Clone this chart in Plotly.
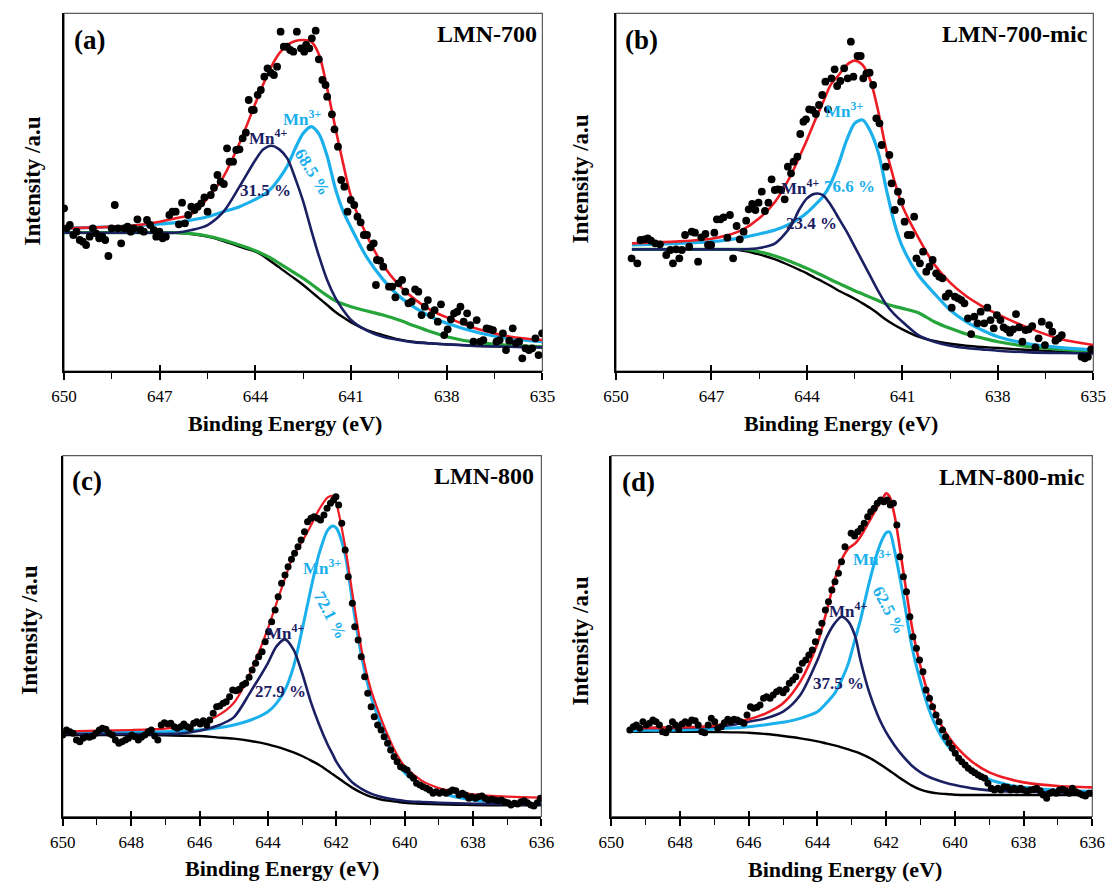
import plotly.graph_objects as go

FONT = "Liberation Serif"
RED = "#ed1c24"
SKY = "#1bb0ec"
NAVY = "#1b2063"
GREEN = "#26a53b"
INK = "#000000"

# Binding-energy tick marks
ticks_700 = [650, 647, 644, 641, 638, 635]
ticks_800 = [650, 648, 646, 644, 642, 640, 638, 636]

# ---------------- (a) LMN-700 : Mn 2p3/2 ----------------
a_points = [
    (650.00, 48.8), (649.92, 42.8), (649.82, 43.8), (649.71, 40.8), (649.61, 41.8), (649.51, 39.3),
    (649.41, 38.8), (649.31, 37.8), (649.20, 40.3), (649.10, 42.8), (649.00, 41.3), (648.90, 39.8),
    (648.80, 40.3), (648.71, 39.3), (648.61, 34.5), (648.51, 42.8), (648.41, 49.8), (648.31, 42.8),
    (648.21, 38.3), (648.11, 42.8), (648.01, 43.3), (647.91, 41.8), (647.81, 42.8), (647.70, 45.5),
    (647.60, 42.3), (647.50, 41.8), (647.40, 45.3), (647.30, 43.8), (647.19, 42.3), (647.11, 40.3),
    (647.01, 41.8), (646.91, 39.8), (646.81, 40.3), (646.70, 46.8), (646.60, 47.8), (646.50, 47.8),
    (646.40, 44.0), (646.30, 50.5), (646.21, 44.3), (646.11, 46.8), (646.01, 49.3), (645.91, 48.3),
    (645.81, 49.3), (645.70, 50.3), (645.60, 52.1), (645.50, 47.8), (645.40, 52.8), (645.30, 55.0),
    (645.19, 58.8), (645.09, 56.8), (644.99, 56.1), (644.89, 66.8), (644.81, 62.8), (644.70, 62.8),
    (644.60, 66.3), (644.50, 66.5), (644.40, 69.8), (644.30, 71.5), (644.21, 81.3), (644.11, 78.3),
    (644.05, 78.3), (643.93, 82.8), (643.83, 84.3), (643.72, 88.3), (643.62, 90.8), (643.52, 89.5),
    (643.42, 88.8), (643.32, 91.3), (643.21, 101.8), (643.11, 97.3), (643.01, 97.3), (642.91, 96.3),
    (642.81, 95.8), (642.70, 101.8), (642.57, 96.8), (642.47, 95.8), (642.41, 97.8), (642.31, 96.8),
    (642.23, 99.8), (642.11, 102.1), (642.01, 93.5), (641.90, 87.3), (641.80, 85.8), (641.75, 82.3),
    (641.60, 77.0), (641.52, 72.5), (641.41, 67.3), (641.31, 57.3), (641.21, 55.3), (641.11, 47.8),
    (641.01, 51.3), (640.90, 49.8), (640.80, 46.3), (640.70, 44.6), (640.60, 40.8), (640.50, 40.8),
    (640.39, 37.1), (640.29, 38.3), (640.22, 25.8), (640.19, 33.3), (640.09, 33.1), (639.99, 31.3),
    (639.81, 25.3), (639.71, 25.3), (639.61, 22.1), (639.51, 26.3), (639.40, 27.3), (639.30, 23.8),
    (639.20, 20.3), (639.10, 20.8), (638.99, 24.5), (638.89, 23.8), (638.79, 16.8), (638.69, 19.3),
    (638.59, 21.3), (638.49, 16.8), (638.38, 18.3), (638.28, 14.8), (638.18, 20.0), (638.08, 10.8),
    (637.97, 12.5), (637.87, 15.5), (637.77, 17.3), (637.67, 17.8), (637.57, 19.3), (637.47, 14.8),
    (637.36, 17.3), (637.26, 13.8), (637.16, 8.8), (637.06, 15.3), (636.95, 8.8), (636.85, 9.3),
    (636.75, 12.8), (636.65, 12.6), (636.55, 12.3), (636.44, 8.8), (636.34, 9.3), (636.24, 11.3),
    (636.14, 6.3), (636.04, 9.1), (635.93, 12.8), (635.83, 8.3), (635.73, 8.8), (635.63, 3.8),
    (635.53, 6.8), (635.42, 6.3), (635.32, 6.8), (635.22, 9.8), (635.12, 4.8), (635.01, 11.3),
]
a_fit_ev = [650, 649, 648, 647, 646.5, 646, 645.5, 645, 644.5, 644, 643.75, 643.5, 643.25, 643,
            642.75, 642.5, 642.25, 642, 641.75, 641.5, 641.25, 641, 640.5, 640, 639.5, 639,
            638.5, 638, 637, 636, 635]
a_shirley = [41.5, 41.5, 41.5, 41.5, 41.5, 41.1, 40.3, 39.0, 37.3, 35.8, 34.5, 32.8, 31.1, 29.3,
             27.6, 25.8, 23.8, 21.8, 19.8, 17.8, 16.1, 14.6, 12.3, 10.8, 9.5, 8.7, 8.3, 8.0, 7.5,
             7.3, 7.1]
a_bg_alt = [41.5, 41.5, 41.5, 41.5, 41.5, 41.2, 40.5, 39.3, 37.8, 36.1, 35.0, 33.8, 32.3, 30.8,
            29.3, 27.8, 26.1, 24.3, 22.6, 21.1, 20.1, 19.3, 18.0, 16.8, 15.3, 13.5, 11.8, 10.3, 8.5,
            7.7, 7.3]
a_mn4 = [41.5, 41.5, 41.5, 41.5, 41.5, 42.3, 43.8, 47.8, 55.3, 63.3, 66.5, 67.6, 66.5, 63.8, 57.8,
         50.8, 42.3, 34.3, 27.3, 22.1, 18.3, 15.3, 12.1, 10.3, 9.3, 8.6, 8.3, 8.0, 7.5, 7.3, 7.1]
a_mn3 = [42.8, 43.1, 43.5, 44.1, 44.5, 45.3, 46.3, 47.8, 49.3, 51.5, 52.8, 54.8, 57.8, 61.5, 66.8,
         71.3, 73.3, 71.0, 64.5, 55.0, 48.0, 43.0, 34.0, 27.5, 22.5, 19.0, 16.3, 14.3, 11.5, 9.7, 8.8]
a_envelope = [42.8, 43.1, 43.5, 44.8, 45.8, 47.1, 51.8, 58.3, 68.3, 80.3, 86.1, 91.3, 95.3, 97.8,
              99.0, 99.3, 98.8, 94.8, 84.8, 73.3, 62.3, 52.3, 40.5, 31.8, 25.8, 21.5, 18.3, 16.1,
              12.5, 10.3, 9.3]
a_share = (31.5, 68.5)   # Mn4+, Mn3+ (%)

# ---------------- (b) LMN-700-mic ----------------
b_points = [
    (649.51, 33.8), (649.33, 32.3), (649.23, 39.3), (649.10, 39.5), (649.00, 39.8), (648.90, 39.1),
    (648.77, 38.3), (648.62, 38.0), (648.42, 34.8), (648.29, 36.3), (648.21, 32.3), (648.11, 36.5),
    (648.01, 33.8), (647.93, 36.3), (647.83, 40.8), (647.70, 37.3), (647.62, 41.8), (647.52, 41.5),
    (647.42, 32.8), (647.32, 40.1), (647.19, 41.1), (647.11, 37.8), (647.01, 37.8), (646.91, 41.5),
    (646.83, 45.5), (646.72, 45.5), (646.62, 46.1), (646.50, 40.0), (646.42, 46.8), (646.32, 33.8),
    (646.21, 43.5), (646.11, 39.5), (645.99, 41.8), (645.91, 45.1), (645.83, 48.5), (645.72, 50.1),
    (645.62, 48.3), (645.52, 50.5), (645.42, 53.8), (645.32, 48.0), (645.21, 50.5), (645.11, 57.5),
    (645.01, 54.3), (644.91, 54.5), (644.81, 54.3), (644.70, 51.5), (644.60, 61.3), (644.50, 59.3),
    (644.42, 62.8), (644.30, 64.3), (644.21, 71.1), (644.11, 74.8), (644.03, 75.5), (643.93, 78.5),
    (643.83, 78.3), (643.72, 77.1), (643.62, 79.8), (643.52, 82.8), (643.42, 86.8), (643.34, 78.5),
    (643.23, 87.8), (643.13, 90.5), (643.05, 85.5), (642.95, 87.0), (642.83, 90.8), (642.72, 87.8),
    (642.62, 98.8), (642.54, 88.3), (642.41, 94.5), (642.31, 94.5), (642.23, 87.8), (642.13, 89.3),
    (642.03, 89.5), (641.92, 85.8), (641.82, 75.8), (641.72, 74.3), (641.65, 67.8), (641.52, 61.3),
    (641.41, 64.8), (641.34, 56.3), (641.24, 48.3), (641.14, 53.8), (641.04, 50.8), (640.93, 44.8),
    (640.83, 40.8), (640.73, 40.8), (640.63, 46.3), (640.56, 33.8), (640.45, 32.3), (640.35, 35.8),
    (640.25, 29.8), (640.15, 31.3), (640.05, 33.3), (639.94, 29.3), (639.84, 28.3), (639.74, 27.8),
    (639.64, 22.3), (639.54, 23.3), (639.45, 19.0), (639.35, 22.3), (639.25, 21.8), (639.15, 21.3),
    (639.05, 20.3), (638.94, 15.8), (638.84, 11.1), (638.74, 16.3), (638.64, 14.3), (638.54, 17.8),
    (638.43, 14.3), (638.33, 19.0), (638.23, 15.3), (638.13, 12.8), (638.03, 16.8), (637.92, 15.3),
    (637.82, 13.1), (637.72, 12.5), (637.62, 11.5), (637.52, 12.5), (637.43, 17.1), (637.33, 13.1),
    (637.23, 8.8), (637.13, 12.3), (637.03, 12.5), (636.92, 13.5), (636.82, 7.1), (636.72, 9.8),
    (636.62, 14.8), (636.52, 7.8), (636.39, 13.8), (636.29, 11.8), (636.19, 9.1), (636.09, 9.8),
    (635.99, 10.8), (635.37, 4.3), (635.27, 3.8), (635.17, 4.3), (635.07, 6.5),
]
b_fit_ev = [649.5, 649, 648, 647, 646.5, 646, 645.5, 645, 644.5, 644.25, 644, 643.75, 643.5,
            643.25, 643, 642.75, 642.5, 642.25, 642, 641.75, 641.5, 641.25, 641, 640.5, 640,
            639.5, 639, 638.5, 638, 637, 636, 635]
b_shirley = [36.5, 36.5, 36.5, 36.5, 36.5, 36.1, 35.0, 33.5, 31.5, 30.4, 29.3, 28.0, 26.8, 25.5,
             24.1, 22.9, 21.7, 20.3, 18.8, 17.1, 15.3, 13.8, 12.5, 10.3, 9.0, 8.2, 7.6, 7.2, 6.9,
             6.3, 5.8, 5.3]
b_bg_alt = [36.5, 36.5, 36.5, 36.5, 36.5, 36.5, 35.8, 34.5, 32.8, 31.8, 30.8, 29.7, 28.6, 27.4,
            26.3, 25.2, 24.1, 23.1, 22.1, 21.1, 20.1, 19.4, 18.8, 17.5, 14.8, 12.8, 11.1, 9.9, 8.8,
            7.3, 6.5, 5.8]
b_mn4 = [36.5, 36.5, 36.5, 36.5, 36.5, 36.5, 36.9, 38.3, 43.5, 48.3, 51.8, 53.2, 52.8, 49.8, 45.8,
         41.8, 37.3, 32.8, 28.3, 23.8, 19.8, 17.0, 14.8, 10.8, 8.8, 7.6, 6.9, 6.5, 6.1, 5.6, 5.4, 5.3]
b_mn3 = [37.8, 38.0, 38.3, 38.8, 39.3, 40.1, 41.1, 42.3, 44.3, 45.7, 47.5, 49.8, 52.3, 56.3, 62.3,
         69.3, 74.3, 75.3, 71.8, 65.3, 54.3, 44.3, 37.3, 28.8, 23.3, 18.3, 14.8, 12.3, 10.3, 8.1,
         7.0, 6.3]
b_envelope = [38.3, 38.5, 38.9, 39.7, 40.7, 42.5, 45.8, 50.8, 58.8, 64.0, 69.3, 75.1, 80.5, 85.9,
              88.8, 91.8, 93.1, 91.8, 87.0, 77.5, 66.0, 57.0, 49.5, 40.0, 32.0, 26.5, 22.5, 19.5,
              17.0, 12.8, 9.5, 7.8]
b_share = (23.4, 76.6)

# ---------------- (c) LMN-800 ----------------
c_points = [
    (650.00, 21.9), (649.89, 23.4), (649.79, 22.9), (649.70, 22.4), (649.60, 20.4), (649.50, 19.9),
    (649.41, 20.9), (649.31, 21.4), (649.22, 21.2), (649.12, 21.6), (649.03, 22.4), (648.93, 23.4),
    (648.84, 23.9), (648.74, 23.6), (648.65, 22.4), (648.55, 21.9), (648.46, 20.4), (648.36, 19.4),
    (648.27, 19.9), (648.17, 20.4), (648.08, 20.9), (647.98, 21.9), (647.89, 21.4), (647.79, 20.4),
    (647.70, 21.2), (647.60, 21.9), (647.50, 22.9), (647.41, 23.4), (647.31, 21.6), (647.22, 20.4),
    (647.12, 24.9), (647.03, 25.6), (646.93, 25.2), (646.84, 25.4), (646.74, 24.4), (646.65, 23.9),
    (646.55, 24.4), (646.46, 25.2), (646.36, 24.4), (646.27, 23.9), (646.17, 25.4), (646.08, 25.9),
    (645.98, 25.2), (645.89, 26.2), (645.79, 24.9), (645.70, 26.4), (645.60, 28.4), (645.50, 30.4),
    (645.41, 30.6), (645.31, 31.4), (645.22, 31.9), (645.12, 33.4), (645.03, 35.4), (644.93, 35.2),
    (644.84, 35.6), (644.74, 36.9), (644.65, 37.4), (644.55, 39.2), (644.46, 41.4), (644.36, 43.4),
    (644.27, 45.4), (644.17, 46.9), (644.08, 49.9), (643.98, 52.9), (643.89, 55.9), (643.79, 59.4),
    (643.70, 63.4), (643.60, 67.4), (643.50, 69.9), (643.41, 72.4), (643.31, 74.6), (643.22, 76.4),
    (643.12, 78.4), (643.03, 80.4), (642.93, 82.9), (642.84, 85.9), (642.74, 86.9), (642.65, 87.4),
    (642.55, 86.9), (642.46, 86.4), (642.36, 87.9), (642.27, 89.9), (642.17, 91.4), (642.08, 92.4),
    (642.01, 93.4), (641.93, 90.9), (641.84, 85.4), (641.74, 77.4), (641.65, 69.4), (641.53, 61.4),
    (641.46, 54.4), (641.36, 50.4), (641.27, 45.4), (641.17, 39.4), (641.08, 34.4), (640.98, 30.4),
    (640.89, 27.4), (640.79, 24.9), (640.69, 23.4), (640.60, 21.4), (640.50, 19.4), (640.41, 17.4),
    (640.31, 15.4), (640.22, 13.9), (640.12, 12.4), (640.03, 11.9), (639.93, 11.4), (639.84, 9.9),
    (639.74, 8.9), (639.65, 7.4), (639.55, 6.9), (639.46, 6.4), (639.36, 5.9), (639.27, 5.4),
    (639.17, 4.4), (639.08, 4.9), (638.98, 4.4), (638.89, 4.9), (638.79, 4.4), (638.69, 4.9),
    (638.60, 5.4), (638.50, 5.2), (638.41, 3.9), (638.31, 4.4), (638.22, 3.9), (638.12, 2.9),
    (638.03, 3.4), (637.93, 2.9), (637.84, 3.4), (637.74, 3.6), (637.65, 2.9), (637.55, 2.4),
    (637.46, 2.6), (637.36, 2.4), (637.27, 2.2), (637.17, 2.4), (637.08, 1.9), (636.98, 1.6),
    (636.89, 0.9), (636.79, 1.4), (636.70, 1.2), (636.60, 1.9), (636.50, 2.2), (636.41, 1.6),
    (636.31, 0.9), (636.22, 0.6), (636.12, 1.6), (636.03, 2.9),
]
c_fit_ev = [650, 649, 648, 647, 646.5, 646, 645.5, 645, 644.5, 644, 643.75, 643.5, 643.25, 643,
            642.75, 642.5, 642.25, 642.1, 642, 641.75, 641.5, 641.25, 641, 640.75, 640.5, 640.25,
            640, 639.5, 639, 638.5, 638, 637, 636]
c_shirley = [21.9, 21.9, 21.9, 21.8, 21.7, 21.6, 21.2, 20.8, 20.1, 19.1, 18.4, 17.6, 16.7, 15.6,
             14.3, 12.9, 11.2, 10.1, 9.4, 7.6, 5.9, 4.5, 3.4, 2.7, 2.2, 1.9, 1.6, 1.3, 1.1, 1.0,
             0.9, 0.8, 0.8]
c_mn4 = [22.2, 22.2, 22.2, 22.2, 22.4, 23.2, 24.6, 27.2, 35.0, 43.5, 48.5, 50.6, 47.5, 40.5, 32.0,
         25.0, 19.0, 16.0, 13.9, 10.2, 7.4, 5.7, 4.4, 3.5, 2.9, 2.5, 2.1, 1.8, 1.6, 1.4, 1.3, 1.2,
         1.1]
c_mn3 = [22.6, 22.7, 22.7, 22.9, 23.1, 23.4, 24.0, 24.9, 26.4, 28.9, 31.4, 35.4, 42.4, 53.4, 65.4,
         76.4, 83.4, 84.6, 84.0, 76.5, 60.0, 45.0, 34.0, 26.5, 20.0, 14.6, 10.6, 6.8, 4.6, 3.3, 2.4,
         1.6, 1.2]
c_envelope = [22.9, 23.2, 23.4, 23.8, 24.4, 25.6, 27.5, 31.5, 40.9, 53.9, 61.4, 68.9, 75.9, 79.9,
              84.6, 89.6, 93.2, 93.6, 91.5, 79.0, 62.5, 47.0, 36.0, 28.5, 22.0, 16.5, 12.5, 8.2,
              6.0, 4.9, 4.1, 3.4, 3.1]
c_share = (27.9, 72.1)

# ---------------- (d) LMN-800-mic ----------------
d_points = [
    (649.46, 26.0), (649.36, 27.0), (649.27, 27.5), (649.17, 26.5), (649.08, 28.5), (648.98, 27.5),
    (648.89, 28.0), (648.79, 29.0), (648.70, 28.5), (648.60, 27.5), (648.51, 25.5), (648.41, 25.2),
    (648.32, 26.5), (648.22, 28.5), (648.13, 27.5), (648.04, 26.2), (647.94, 27.8), (647.85, 28.5),
    (647.75, 28.0), (647.66, 29.0), (647.56, 28.8), (647.47, 27.5), (647.37, 25.5), (647.28, 25.2),
    (647.18, 27.5), (647.09, 29.5), (646.99, 28.5), (646.90, 26.5), (646.80, 27.0), (646.71, 28.2),
    (646.61, 29.2), (646.52, 28.5), (646.43, 29.2), (646.33, 29.0), (646.24, 28.5), (646.14, 28.0),
    (646.05, 30.5), (645.95, 33.0), (645.86, 32.5), (645.76, 32.8), (645.67, 33.5), (645.57, 35.5),
    (645.48, 36.0), (645.38, 35.5), (645.29, 36.5), (645.19, 37.5), (645.10, 38.0), (645.00, 37.2),
    (644.91, 38.2), (644.82, 40.0), (644.72, 41.0), (644.63, 42.0), (644.53, 44.0), (644.44, 46.0),
    (644.34, 47.0), (644.25, 48.5), (644.15, 50.0), (644.06, 52.5), (643.96, 55.5), (643.87, 58.0),
    (643.77, 62.0), (643.68, 64.5), (643.58, 68.0), (643.49, 70.5), (643.39, 73.0), (643.30, 76.5),
    (643.20, 81.0), (643.02, 85.0), (642.92, 84.2), (642.83, 85.5), (642.73, 86.5), (642.64, 88.0),
    (642.54, 90.0), (642.45, 91.5), (642.35, 92.5), (642.26, 94.0), (642.16, 95.0), (642.07, 94.5),
    (641.97, 95.0), (641.88, 93.5), (641.79, 94.0), (641.69, 87.5), (641.60, 78.0), (641.50, 72.0),
    (641.41, 67.5), (641.31, 60.0), (641.22, 54.0), (641.12, 50.5), (641.03, 47.0), (640.93, 43.5),
    (640.84, 38.0), (640.74, 35.5), (640.65, 33.0), (640.55, 30.5), (640.46, 28.5), (640.36, 26.0),
    (640.27, 24.0), (640.17, 22.2), (640.08, 20.5), (639.99, 19.0), (639.89, 17.5), (639.80, 16.5),
    (639.70, 15.5), (639.61, 14.5), (639.51, 13.8), (639.42, 13.2), (639.32, 12.5), (639.23, 12.0),
    (639.13, 11.5), (639.04, 10.0), (638.94, 8.5), (638.85, 8.0), (638.75, 8.5), (638.66, 8.0),
    (638.57, 9.0), (638.47, 8.8), (638.38, 8.0), (638.28, 8.5), (638.19, 8.0), (638.09, 8.5),
    (638.00, 8.0), (637.90, 7.5), (637.81, 8.0), (637.71, 8.2), (637.62, 8.5), (637.52, 7.8),
    (637.43, 6.5), (637.33, 5.5), (637.24, 7.0), (637.15, 7.5), (637.05, 7.0), (636.96, 8.0),
    (636.86, 8.2), (636.77, 7.8), (636.67, 7.0), (636.58, 8.5), (636.48, 7.5), (636.39, 7.0),
    (636.29, 6.5), (636.20, 6.2), (636.10, 7.0), (636.01, 7.0),
]
d_fit_ev = [649.45, 649, 648, 647, 646.5, 646, 645.5, 645, 644.5, 644, 643.75, 643.5, 643.3, 643.1,
            642.9, 642.75, 642.5, 642.25, 642.1, 642, 641.9, 641.75, 641.5, 641.25, 641, 640.75,
            640.5, 640.25, 640, 639.5, 639, 638.5, 638, 637, 636]
d_shirley = [25.5, 25.5, 25.5, 25.4, 25.3, 25.2, 24.8, 24.2, 23.5, 22.6, 22.0, 21.4, 20.8, 20.2,
             19.5, 18.9, 17.7, 16.2, 15.2, 14.5, 13.8, 12.7, 10.9, 9.3, 8.1, 7.4, 7.0, 6.8, 6.6,
             6.5, 6.5, 6.5, 6.5, 6.5, 6.5]
d_mn4 = [26.5, 26.6, 26.7, 27.0, 27.5, 28.5, 29.5, 31.5, 36.5, 47.0, 53.5, 58.0, 60.0, 58.5, 54.0,
         47.0, 37.5, 30.5, 27.2, 25.3, 23.6, 21.3, 18.0, 15.3, 13.3, 11.9, 10.9, 10.1, 9.5, 8.5, 7.9,
         7.6, 7.5, 7.3, 7.1]
d_mn3 = [25.8, 25.9, 26.0, 26.3, 26.6, 27.0, 27.6, 28.3, 29.5, 31.5, 34.0, 37.0, 41.0, 46.0, 53.5,
         59.0, 70.0, 79.5, 83.5, 85.2, 85.4, 79.5, 66.0, 51.0, 40.5, 32.0, 26.0, 21.8, 19.0, 14.0,
         11.2, 9.7, 8.8, 7.9, 7.6]
d_envelope = [26.5, 26.6, 26.8, 27.3, 28.3, 29.2, 31.0, 34.0, 40.5, 52.0, 61.0, 71.0, 77.0, 80.5,
              82.0, 84.0, 88.5, 93.0, 95.5, 97.0, 96.0, 90.0, 73.5, 57.0, 45.0, 36.0, 29.5, 25.0,
              21.5, 16.5, 13.3, 11.5, 10.3, 9.2, 8.8]
d_share = (37.5, 62.5)

# ---------------- panel set-up ----------------
panels = [
    dict(tag="(a)", name="LMN-700", points=a_points, ev=a_fit_ev,
         curves=[(a_shirley, INK, 2.4), (a_bg_alt, GREEN, 3.2), (a_mn3, SKY, 3.2),
                 (a_mn4, NAVY, 2.6), (a_envelope, RED, 2.6)],
         share=a_share, ticks=ticks_700, xr=[650, 635], yr=[0, 107.3],
         xd=[0.0467, 0.4839], yd=[0.5798, 0.9849], msize=7.8,
         place=dict(t4=(643.62, 70.1), p4=(643.69, 54.3, 0), t3=(642.54, 75.8), p3=(642.20, 59.7, 58)),
         tag_xy=(78, 40), name_xy=(538, 34), title_xy=(278, 423), ytitle_xy=(19, 181)),
    dict(tag="(b)", name="LMN-700-mic", points=b_points, ev=b_fit_ev,
         curves=[(b_shirley, INK, 2.4), (b_bg_alt, GREEN, 3.2), (b_mn3, SKY, 3.2),
                 (b_mn4, NAVY, 2.6), (b_envelope, RED, 2.6)],
         share=b_share, ticks=ticks_700, xr=[650, 635], yr=[0, 107.3],
         xd=[0.5512, 0.9875], yd=[0.5798, 0.9849], msize=7.8,
         place=dict(t4=(644.23, 55.3), p4=(643.87, 44.3, 0), t3=(642.85, 78.3), p3=(642.66, 55.3, 0)),
         tag_xy=(643, 40), name_xy=(1103, 34), title_xy=(848, 423), ytitle_xy=(582, 179)),
    dict(tag="(c)", name="LMN-800", points=c_points, ev=c_fit_ev,
         curves=[(c_shirley, INK, 2.4), (c_mn3, SKY, 3.0), (c_mn4, NAVY, 2.6),
                 (c_envelope, RED, 2.2)],
         share=c_share, ticks=ticks_800, xr=[650, 636], yr=[-2.55, 105.75],
         xd=[0.0455, 0.4830], yd=[0.0753, 0.4841], msize=7,
         place=dict(t4=(643.50, 52.9), p4=(643.64, 34.9, 0), t3=(642.43, 72.4), p3=(642.17, 57.9, 62)),
         tag_xy=(76, 481), name_xy=(535, 476), title_xy=(275, 868), ytitle_xy=(16, 630)),
    dict(tag="(d)", name="LMN-800-mic", points=d_points, ev=d_fit_ev,
         curves=[(d_shirley, INK, 2.4), (d_mn3, SKY, 3.0), (d_mn4, NAVY, 2.6),
                 (d_envelope, RED, 2.6)],
         share=d_share, ticks=ticks_800, xr=[650, 636], yr=[0.05, 108.35],
         xd=[0.5469, 0.9866], yd=[0.0753, 0.4841], msize=7,
         place=dict(t4=(643.10, 62.0), p4=(643.40, 40.0, 0), t3=(642.40, 77.5), p3=(641.92, 61.8, 62)),
         tag_xy=(640, 482), name_xy=(1100, 477), title_xy=(852, 869), ytitle_xy=(580, 641)),
]

W, H = 1120, 883
fig = go.Figure()
layout = {}
annotations = []
shapes = []

for i, p in enumerate(panels, start=1):
    xa = "x" if i == 1 else f"x{i}"
    ya = "y" if i == 1 else f"y{i}"
    xkey = "xaxis" if i == 1 else f"xaxis{i}"
    ykey = "yaxis" if i == 1 else f"yaxis{i}"
    ov = f"x{i + 4}"

    for ys, color, width in p["curves"]:
        fig.add_trace(go.Scatter(x=p["ev"], y=ys, mode="lines", xaxis=xa, yaxis=ya,
                                 line=dict(color=color, width=width, shape="spline", smoothing=0.8),
                                 hoverinfo="skip", showlegend=False))
    ev_pts = [e for e, _ in p["points"]]
    int_pts = [v for _, v in p["points"]]
    fig.add_trace(go.Scatter(x=ev_pts, y=int_pts, mode="markers", xaxis=xa, yaxis=ya,
                             marker=dict(color=INK, size=p["msize"], line=dict(width=0)),
                             hoverinfo="skip", showlegend=False))
    # empty trace so the inner-tick overlay axis is drawn
    fig.add_trace(go.Scatter(x=[], y=[], xaxis=ov, yaxis=ya, showlegend=False, hoverinfo="skip"))

    ticks = p["ticks"]
    minor = [(ticks[k] + ticks[k + 1]) / 2 for k in range(len(ticks) - 1)]
    layout[xkey] = dict(domain=p["xd"], range=p["xr"], anchor=ya, showline=True, linecolor=INK,
                        linewidth=2, showgrid=False, zeroline=False, tickmode="array",
                        tickvals=ticks, ticktext=[str(t) for t in ticks], ticks="outside",
                        ticklen=7, tickwidth=1.5, tickcolor=INK, ticklabelstandoff=2,
                        tickfont=dict(family=FONT, size=17, color=INK),
                        minor=dict(tickmode="array", tickvals=minor, ticks="outside", ticklen=6,
                                   tickwidth=1.2, tickcolor=INK, showgrid=False))
    layout[f"xaxis{i + 4}"] = dict(overlaying=xa, anchor=ya, range=p["xr"], tickmode="array",
                                   tickvals=ticks, ticks="inside", ticklen=6, tickwidth=1.5,
                                   tickcolor=INK, showticklabels=False, showline=False,
                                   showgrid=False, zeroline=False)
    layout[ykey] = dict(domain=p["yd"], range=p["yr"], anchor=xa, showline=True, linecolor=INK,
                        linewidth=1.5, showgrid=False, zeroline=False, ticks="",
                        showticklabels=False)

    # thin frame around each plot area
    shapes.append(dict(type="rect", xref=f"{xa} domain", yref=f"{ya} domain", x0=0, x1=1, y0=0,
                       y1=1, line=dict(color="#5a5a5a", width=1.2), layer="below"))

    pl = p["place"]
    labels = [
        ("<b>Mn<sup>4+</sup></b>", pl["t4"][0], pl["t4"][1], NAVY, 0),
        (f"<b>{p['share'][0]:.1f} %</b>", pl["p4"][0], pl["p4"][1], NAVY, pl["p4"][2]),
        ("<b>Mn<sup>3+</sup></b>", pl["t3"][0], pl["t3"][1], SKY, 0),
        (f"<b>{p['share'][1]:.1f} %</b>", pl["p3"][0], pl["p3"][1], SKY, pl["p3"][2]),
    ]
    for text, xv, yv, color, ang in labels:
        annotations.append(dict(text=text, x=xv, y=yv, xref=xa, yref=ya, showarrow=False,
                                textangle=ang, xanchor="center", yanchor="middle",
                                font=dict(family=FONT, size=17, color=color)))

    tx, ty = p["tag_xy"]
    annotations.append(dict(text=f"<b>{p['tag']}</b>", x=tx / W, y=1 - ty / H, xref="paper",
                            yref="paper", showarrow=False, xanchor="center", yanchor="middle",
                            font=dict(family=FONT, size=27, color=INK)))
    nx, ny = p["name_xy"]
    annotations.append(dict(text=f"<b>{p['name']}</b>", x=nx / W, y=1 - ny / H, xref="paper",
                            yref="paper", showarrow=False, xanchor="right", yanchor="middle",
                            font=dict(family=FONT, size=24, color=INK)))
    bx, by = p["title_xy"]
    annotations.append(dict(text="<b>Binding Energy (eV)</b>", x=bx / W, y=1 - by / H,
                            xref="paper", yref="paper", showarrow=False, xanchor="center",
                            yanchor="middle", font=dict(family=FONT, size=22, color=INK)))
    qx, qy = p["ytitle_xy"]
    annotations.append(dict(text="<b>Intensity /a.u</b>", x=qx / W, y=1 - qy / H, xref="paper",
                            yref="paper", showarrow=False, textangle=-90, xanchor="center",
                            yanchor="middle", font=dict(family=FONT, size=23, color=INK)))

fig.update_layout(**layout)
fig.update_layout(width=W, height=H, margin=dict(l=0, r=0, t=0, b=0), paper_bgcolor="white",
                  plot_bgcolor="white", showlegend=False, annotations=annotations, shapes=shapes,
                  font=dict(family=FONT, color=INK))

fig.write_html("out.html")
